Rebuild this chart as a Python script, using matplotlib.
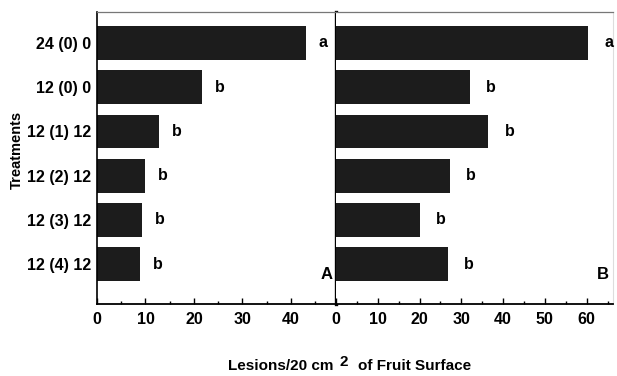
import matplotlib.pyplot as plt
from matplotlib.ticker import MultipleLocator

plt.rcParams['font.family'] = ['Liberation Sans', 'DejaVu Sans']
plt.rcParams['font.weight'] = 'bold'

treatments = ['24 (0) 0', '12 (0) 0', '12 (1) 12', '12 (2) 12', '12 (3) 12', '12 (4) 12']
lesions_a = [43.1, 21.7, 12.8, 9.9, 9.3, 8.9]
lesions_b = [60.3, 32.0, 36.5, 27.2, 20.2, 26.7]
letters_a = ['a', 'b', 'b', 'b', 'b', 'b']
letters_b = ['a', 'b', 'b', 'b', 'b', 'b']

W, H = 617, 376
fig = plt.figure(figsize=(W / 100, H / 100), dpi=100)

ax_a = fig.add_axes([97 / W, 1 - 304 / H, (336 - 97) / W, (304 - 12) / H])
ax_b = fig.add_axes([336 / W, 1 - 304 / H, (613 - 336) / W, (304 - 12) / H])

bar_color = '#1c1c1c'
ypos = list(range(len(treatments)))


def draw_panel(ax, values, letters, xmax, offset, tag):
    ax.barh(ypos, values, height=0.76, color=bar_color)
    for y, v, s in zip(ypos, values, letters):
        ax.annotate(s, (v, y), xytext=(offset, 0), textcoords='offset points',
                    ha='center', va='center', fontsize=11.5, fontweight='bold')
    ax.set_xlim(0, xmax)
    ax.set_ylim(5.9, -0.7)
    ax.xaxis.set_major_locator(MultipleLocator(10))
    ax.xaxis.set_minor_locator(MultipleLocator(5))
    ax.tick_params(axis='x', which='major', direction='in', length=4.5, width=1,
                   labelsize=11.5, pad=6)
    ax.tick_params(axis='x', which='minor', direction='in', length=2.2, width=1)
    ax.text(0.985, 0.1, tag, transform=ax.transAxes, ha='right', va='center',
            fontsize=12, fontweight='bold')
    ax.spines['top'].set_color('#777777')
    ax.spines['top'].set_linewidth(0.9)
    ax.spines['bottom'].set_linewidth(1.3)


draw_panel(ax_a, lesions_a, letters_a, 49.3, 12.5, 'A')
draw_panel(ax_b, lesions_b, letters_b, 66.3, 15, 'B')

ax_a.set_yticks(ypos)
ax_a.set_yticklabels(treatments, fontsize=11.5, fontweight='bold')
ax_a.tick_params(axis='y', length=0, pad=4)
ax_a.spines['left'].set_linewidth(1.2)
ax_a.spines['right'].set_linewidth(2.4)

ax_b.set_yticks([])
ax_b.spines['left'].set_visible(False)
ax_b.spines['right'].set_color('#dddddd')
ax_b.spines['right'].set_linewidth(0.8)

fig.text(17 / W, 1 - 150 / H, 'Treatments', rotation=90, ha='center', va='center',
         fontsize=10.5, fontweight='bold')

fig.text(334 / W, 1 - 366 / H, 'Lesions/20 cm', ha='right', va='center',
         fontsize=11, fontweight='bold')
fig.text(344 / W, 1 - 362 / H, '2', ha='center', va='center',
         fontsize=11, fontweight='bold')
fig.text(358 / W, 1 - 366 / H, 'of Fruit Surface', ha='left', va='center',
         fontsize=11, fontweight='bold')

fig.savefig('out.png', dpi=100)
